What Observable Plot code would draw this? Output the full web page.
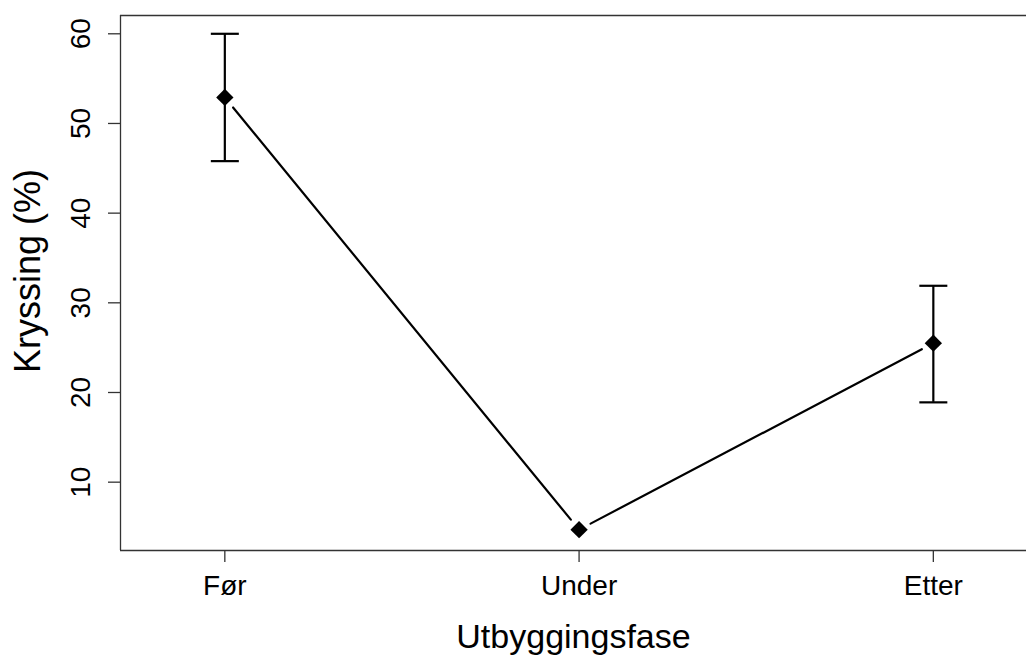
<!DOCTYPE html>
<html>
<head>
<meta charset="utf-8">
<script src="https://cdn.jsdelivr.net/npm/d3@7"></script>
<script src="https://cdn.jsdelivr.net/npm/@observablehq/plot@0.6"></script>
<style>
  html, body { margin: 0; padding: 0; background: #fff; }
  #chart svg { display: block; }
</style>
</head>
<body>
<div id="chart"></div>
<script>
const phases = ["Før", "Under", "Etter"];
const meanValues = [52.9, 4.7, 25.5];
const lowerValues = [45.8, null, 18.9];
const upperValues = [60.0, null, 31.9];
const yTicks = [10, 20, 30, 40, 50, 60];
const xLabel = "Utbyggingsfase";
const yLabel = "Kryssing (%)";

const xDomain = [0.7055, 3.263];
const yDomain = [2.38, 62.04];

const rows = phases.map((p, i) => ({
  phase: p, pos: i + 1, mean: meanValues[i], lo: lowerValues[i], hi: upperValues[i]
}));
const bars = rows.filter(d => d.lo != null && d.hi != null);
const segs = rows.slice(0, -1).map((d, i) => ({a: d, b: rows[i + 1]}));

const capSymbol = {
  draw(context, size) {
    const r = Math.sqrt(size / Math.PI);
    context.moveTo(-r, 0);
    context.lineTo(r, 0);
  }
};

const font = "'Liberation Sans', Arial, sans-serif";
const axisColor = "#333";

const chart = Plot.plot({
  width: 1026,
  height: 655,
  marginLeft: 120,
  marginRight: 0,
  marginTop: 15,
  marginBottom: 105,
  style: {fontFamily: font, background: "#fff", color: "#000"},
  x: {domain: xDomain},
  y: {domain: yDomain},
  marks: [
    Plot.ruleX([xDomain[0]], {stroke: axisColor, strokeWidth: 1.3}),
    Plot.ruleY(yDomain, {stroke: axisColor, strokeWidth: 1.3}),
    Plot.axisY({
      ticks: yTicks, tickSize: 12, tickRotate: -90, tickPadding: 19,
      fontSize: 28, stroke: axisColor, strokeWidth: 1.3, label: null
    }),
    Plot.axisX({
      ticks: phases.map((p, i) => i + 1), tickFormat: d => phases[d - 1],
      tickSize: 12, tickPadding: 13, fontSize: 28, stroke: axisColor, strokeWidth: 1.3, label: null
    }),
    Plot.text([xLabel], {
      x: () => (xDomain[0] + xDomain[1]) / 2, frameAnchor: "bottom", text: d => d,
      dy: 97, fontSize: 34, lineAnchor: "bottom", fill: "#000"
    }),
    Plot.text([yLabel], {
      frameAnchor: "left", text: d => d, dx: -106, dy: -12, rotate: -90, textAnchor: "middle",
      fontSize: 36, lineAnchor: "top", fill: "#000"
    }),
    Plot.ruleX(bars, {x: "pos", y1: "lo", y2: "hi", stroke: "#000", strokeWidth: 2.2}),
    Plot.dot(bars, {x: "pos", y: "lo", symbol: capSymbol, r: 14, fill: "none", stroke: "#000", strokeWidth: 2.2}),
    Plot.dot(bars, {x: "pos", y: "hi", symbol: capSymbol, r: 14, fill: "none", stroke: "#000", strokeWidth: 2.2}),
    Plot.arrow(segs, {
      x1: d => d.a.pos, y1: d => d.a.mean, x2: d => d.b.pos, y2: d => d.b.mean,
      headLength: 0, inset: 13, stroke: "#000", strokeWidth: 2.2
    }),
    Plot.dot(rows, {x: "pos", y: "mean", symbol: "diamond2", r: 7.8, fill: "#000", stroke: "none"})
  ]
});

document.getElementById("chart").appendChild(chart);
</script>
</body>
</html>
